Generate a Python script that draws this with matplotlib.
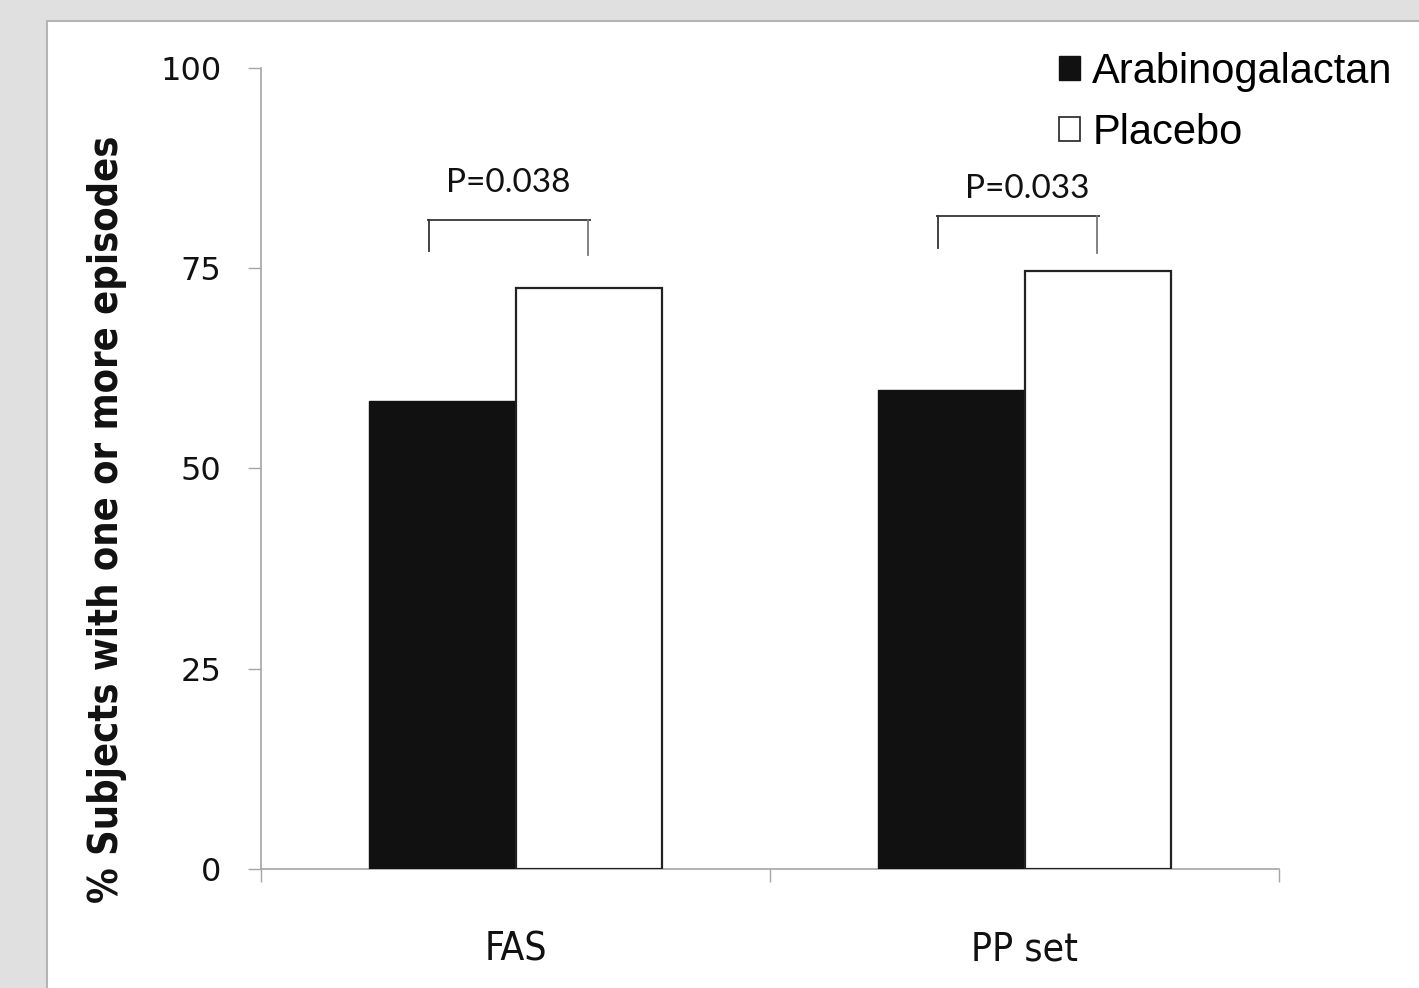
#!/usr/bin/env python3

import matplotlib

matplotlib.use("Agg")

import matplotlib.pyplot as plt
from matplotlib.patches import Patch, Rectangle


CATEGORIES = ["FAS", "PP set"]
SERIES = ["Arabinogalactan", "Placebo"]
ARABINOGALACTAN = [58.4, 59.8]
PLACEBO = [72.5, 74.6]
P_VALUES = ["P=0.038", "P=0.033"]
BRACKET_Y = [81.0, 81.5]
BRACKET_LEGS = [(77.1, 76.6), (77.5, 76.9)]
YTICKS = [0, 25, 50, 75, 100]

BG = "#e0e0e0"
AXIS_GREY = "#a6a6a6"


def main():
    fig = plt.figure(figsize=(14.19, 9.88), dpi=100, facecolor=BG)

    # white slide panel with a thin grey border, running off the right/bottom edges
    panel = Rectangle((47 / 1419, -0.05), 1.1, 1 - 21 / 988 + 0.05, transform=fig.transFigure,
                      facecolor="white", edgecolor="#b4b4b4", linewidth=1.5, zorder=-5)
    fig.patches.append(panel)

    ax = fig.add_axes([261 / 1419, 1 - 869 / 988, (1279 - 261) / 1419, (869 - 68) / 988])
    ax.set_facecolor("none")
    ax.set_zorder(1)

    width = 0.287
    centers = [0.5, 1.5]
    ax.bar([c - width / 2 for c in centers], ARABINOGALACTAN, width=width, color="#111111",
           edgecolor="#111111", linewidth=1.0, zorder=3)
    ax.bar([c + width / 2 for c in centers], PLACEBO, width=width, color="white",
           edgecolor="#222222", linewidth=1.6, zorder=3)

    for i, c in enumerate(centers):
        x0 = c - 0.172
        x1 = c + 0.146
        y = BRACKET_Y[i]
        ax.plot([x0, x1], [y, y], color="#444444", linewidth=1.4, zorder=4)
        ax.plot([x0 + 0.003, x0 + 0.003], [y, BRACKET_LEGS[i][0]], color="#333333", linewidth=1.3, zorder=4)
        ax.plot([x1 - 0.003, x1 - 0.003], [y, BRACKET_LEGS[i][1]], color="#777777", linewidth=1.3, zorder=4)
        ax.text(c - 0.015 + 0.02 * i, y + 4.6 - 1.2 * i, P_VALUES[i], ha="center", va="center",
                fontsize=24, family=["Lato", "DejaVu Sans"], color="#111111")

    ax.set_xlim(0, 2)
    ax.set_ylim(0, 100)
    ax.set_yticks(YTICKS)
    ax.set_yticklabels([str(v) for v in YTICKS], fontsize=23, family="DejaVu Sans", color="#111111")
    ax.set_xticks([0, 1, 2])
    ax.set_xticklabels([])
    ax.tick_params(axis="y", length=9.5, width=1.0, color=AXIS_GREY, pad=19)
    ax.tick_params(axis="x", length=9.5, width=1.0, color=AXIS_GREY)
    for c, label in zip(centers, CATEGORIES):
        ax.text(c, -10.0, label, ha="center", va="center", fontsize=28, family="DejaVu Sans",
                fontstretch="condensed", color="#111111")

    for side in ("top", "right"):
        ax.spines[side].set_visible(False)
    for side in ("left", "bottom"):
        ax.spines[side].set_color(AXIS_GREY)
        ax.spines[side].set_linewidth(1.2)

    ax.set_ylabel("% Subjects with one or more episodes", fontsize=28.5, fontweight="bold",
                  family="DejaVu Sans", fontstretch="condensed", color="#111111",
                  va="center", ha="center")
    ax.yaxis.set_label_coords(-0.151, 0.436)

    handles = [
        Patch(facecolor="#111111", edgecolor="#111111", label=SERIES[0]),
        Patch(facecolor="white", edgecolor="#222222", linewidth=1.2, label=SERIES[1]),
    ]
    leg = fig.legend(handles=handles, loc="upper left", bbox_to_anchor=(1059 / 1419, 1 - 52 / 988),
                     frameon=False, prop={"family": "Liberation Sans", "size": 30},
                     handlelength=0.5, handleheight=0.5, handletextpad=0.3, labelspacing=0.5,
                     borderaxespad=0, borderpad=0)
    leg.set_zorder(5)

    fig.savefig("out.png", dpi=100, facecolor=BG)
    plt.close(fig)


if __name__ == "__main__":
    main()
